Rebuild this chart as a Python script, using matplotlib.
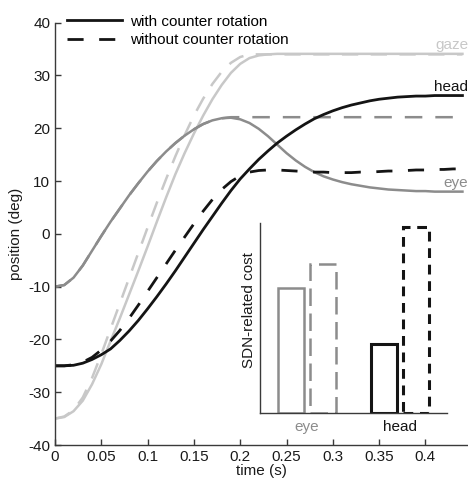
import matplotlib
matplotlib.use("Agg")
import matplotlib.pyplot as plt
import numpy as np

plt.rcParams['font.family'] = ['Liberation Sans', 'DejaVu Sans']
plt.rcParams['font.size'] = 11

# ---------------- data ----------------
t = [0.00, 0.01, 0.02, 0.03, 0.04, 0.05, 0.06, 0.07, 0.08, 0.09,
     0.10, 0.11, 0.12, 0.13, 0.14, 0.15, 0.16, 0.17, 0.18, 0.19,
     0.20, 0.21, 0.22, 0.23, 0.24, 0.25, 0.26, 0.27, 0.28, 0.29,
     0.30, 0.31, 0.32, 0.33, 0.34, 0.35, 0.36, 0.37, 0.38, 0.39,
     0.40, 0.41, 0.42, 0.43, 0.44]

gaze_with = [-35.0, -34.7, -33.6, -31.6, -28.5, -24.7, -20.3, -16.0, -11.5, -7.0,
             -2.4, 2.3, 6.9, 11.3, 15.3, 19.0, 22.4, 25.5, 28.2, 30.5,
             32.2, 33.3, 33.8, 34.0, 34.1, 34.1, 34.1, 34.1, 34.1, 34.1,
             34.1, 34.1, 34.1, 34.1, 34.1, 34.1, 34.1, 34.1, 34.1, 34.1,
             34.1, 34.1, 34.1, 34.1, 34.1]
gaze_without = [-35.0, -34.6, -33.4, -31.0, -27.3, -22.8, -18.0, -13.2, -8.4, -3.6,
                1.2, 5.9, 10.4, 14.7, 18.7, 22.4, 25.6, 28.4, 30.7, 32.4,
                33.5, 34.0, 34.0, 34.0, 34.0, 34.0, 34.0, 34.0, 34.0, 34.0,
                34.0, 34.0, 34.0, 34.0, 34.0, 34.0, 34.0, 34.0, 34.0, 34.0,
                34.0, 34.0, 34.0, 34.0, 34.0]
eye_with = [-10.0, -9.7, -8.3, -6.0, -3.2, -0.4, 2.3, 4.8, 7.3, 9.6,
            11.8, 13.8, 15.6, 17.2, 18.6, 19.8, 20.8, 21.5, 21.9, 22.0,
            21.7, 21.0, 19.9, 18.5, 16.9, 15.3, 13.9, 12.7, 11.7, 10.9,
            10.3, 9.8, 9.4, 9.1, 8.8, 8.6, 8.4, 8.3, 8.2, 8.1,
            8.1, 8.0, 8.0, 8.0, 8.0]
eye_without = [-10.0, -9.7, -8.3, -6.0, -3.2, -0.4, 2.3, 4.8, 7.3, 9.6,
               11.8, 13.8, 15.6, 17.2, 18.6, 19.8, 20.8, 21.5, 21.9, 22.1,
               22.1, 22.1, 22.1, 22.1, 22.1, 22.1, 22.1, 22.1, 22.1, 22.1,
               22.1, 22.1, 22.1, 22.1, 22.1, 22.1, 22.1, 22.1, 22.1, 22.1,
               22.1, 22.1, 22.1, 22.1, 22.1]
head_with = [-25.0, -25.0, -24.9, -24.5, -23.8, -22.9, -21.8, -20.2, -18.4, -16.4,
             -14.2, -11.9, -9.5, -7.0, -4.4, -1.8, 0.8, 3.3, 5.8, 8.2,
             10.4, 12.3, 14.1, 15.7, 17.2, 18.5, 19.7, 20.8, 21.8, 22.6,
             23.3, 23.9, 24.4, 24.8, 25.2, 25.5, 25.7, 25.9, 26.0, 26.1,
             26.1, 26.2, 26.2, 26.2, 26.2]
head_without = [-25.0, -25.0, -24.8, -24.3, -23.4, -22.0, -20.3, -18.3, -16.0, -13.5,
                -10.9, -8.3, -5.7, -3.1, -0.6, 1.9, 4.3, 6.5, 8.4, 9.9,
                11.0, 11.7, 12.0, 12.1, 12.1, 12.0, 11.9, 11.8, 11.7, 11.7,
                11.6, 11.6, 11.6, 11.7, 11.7, 11.8, 11.9, 11.9, 12.0, 12.1,
                12.1, 12.2, 12.2, 12.3, 12.3]

bar_groups = ['eye', 'head']
cost_with = [0.66, 0.363]
cost_without = [0.784, 0.98]

legend_labels = ['with counter rotation', 'without counter rotation']
xticks = [0, 0.05, 0.1, 0.15, 0.2, 0.25, 0.3, 0.35, 0.4]
xticklabels = ['0', '0.05', '0.1', '0.15', '0.2', '0.25', '0.3', '0.35', '0.4']
yticks = [-40, -30, -20, -10, 0, 10, 20, 30, 40]

# ---------------- style ----------------
C_GAZE = '#c8c8c8'
C_EYE = '#8c8c8c'
C_HEAD = '#141414'
C_AX = '#3a3a3a'

W, H = 468, 486
fig = plt.figure(figsize=(W / 100, H / 100), dpi=100)

ax = fig.add_axes([55 / W, 1 - 445 / H, (468 - 55) / W, (445 - 22.7) / H])
ax.plot(t, gaze_with, color=C_GAZE, lw=1.8)
ax.plot(t, gaze_without, color=C_GAZE, lw=1.8, linestyle=(0, (6.5, 5.0)))
ax.plot(t, eye_with, color=C_EYE, lw=1.8)
ax.plot(t, eye_without, color=C_EYE, lw=1.8, linestyle=(0, (7.0, 5.2)))
l1, = ax.plot(t, head_with, color=C_HEAD, lw=2.0, label=legend_labels[0])
l2, = ax.plot(t, head_without, color=C_HEAD, lw=2.0, linestyle=(0, (5.8, 5.6)),
              label=legend_labels[1])

ax.set_xlim(0, 0.446)
ax.set_ylim(-40, 40)
ax.set_xticks(xticks)
ax.set_xticklabels(xticklabels)
ax.set_yticks(yticks)
ax.set_yticklabels([str(v) for v in yticks])
for s in ['top', 'right']:
    ax.spines[s].set_visible(False)
for s in ['left', 'bottom']:
    ax.spines[s].set_color(C_AX)
    ax.spines[s].set_linewidth(1.0)
ax.tick_params(direction='in', length=4, width=1.0, color=C_AX, labelsize=11,
               pad=3.5, labelcolor='#1a1a1a')
ax.set_xlabel('time (s)', fontsize=11, color='#1a1a1a')
ax.set_ylabel('position (deg)', fontsize=11, color='#1a1a1a')
ax.xaxis.set_label_coords(0.5, -0.046)
ax.yaxis.set_label_coords(-0.077, 0.5)

ax.text(0.446, 35.1, 'gaze', color=C_GAZE, ha='right', va='baseline', fontsize=11)
ax.text(0.446, 27.0, 'head', color=C_HEAD, ha='right', va='baseline', fontsize=11)
ax.text(0.446, 8.9, 'eye', color=C_EYE, ha='right', va='baseline', fontsize=11)

leg = ax.legend(handles=[l1, l2], loc='upper left',
                bbox_to_anchor=(67 / W, 1 - 14.5 / H), bbox_transform=fig.transFigure,
                frameon=False, fontsize=11, handlelength=3.6, handletextpad=0.5,
                labelspacing=0.32, borderpad=0, borderaxespad=0)

# ---------------- inset ----------------
ai = fig.add_axes([260 / W, 1 - 413 / H, 187 / W, 190 / H])
ai.patch.set_alpha(0)
x = np.arange(1, len(bar_groups) + 1)
off = 0.17
bw = 0.28
cols = [C_EYE, C_HEAD]
lws = [1.8, 2.2]
dash_styles = [(0, (7, 3)), (0, (3.2, 2.2))]
for i in range(len(bar_groups)):
    ai.bar(x[i] - off, cost_with[i], width=bw, facecolor='none',
           edgecolor=cols[i], linewidth=lws[i])
    ai.bar(x[i] + off, cost_without[i], width=bw, facecolor='none',
           edgecolor=cols[i], linewidth=lws[i], linestyle=dash_styles[i])
ai.set_xlim(0.5, 2.5)
ai.set_ylim(0, 1)
ai.set_yticks([])
ai.set_xticks(x)
ai.set_xticklabels(bar_groups)
for lbl, c in zip(ai.get_xticklabels(), cols):
    lbl.set_color(c)
ai.tick_params(axis='x', length=0, pad=5, labelsize=11)
for s in ['top', 'right']:
    ai.spines[s].set_visible(False)
for s in ['left', 'bottom']:
    ai.spines[s].set_color(C_AX)
    ai.spines[s].set_linewidth(1.0)
ai.text(-0.06, 0.54, 'SDN-related cost', rotation=90, ha='center', va='center',
        transform=ai.transAxes, fontsize=11, color='#1a1a1a')

fig.savefig('out.png', dpi=100)
